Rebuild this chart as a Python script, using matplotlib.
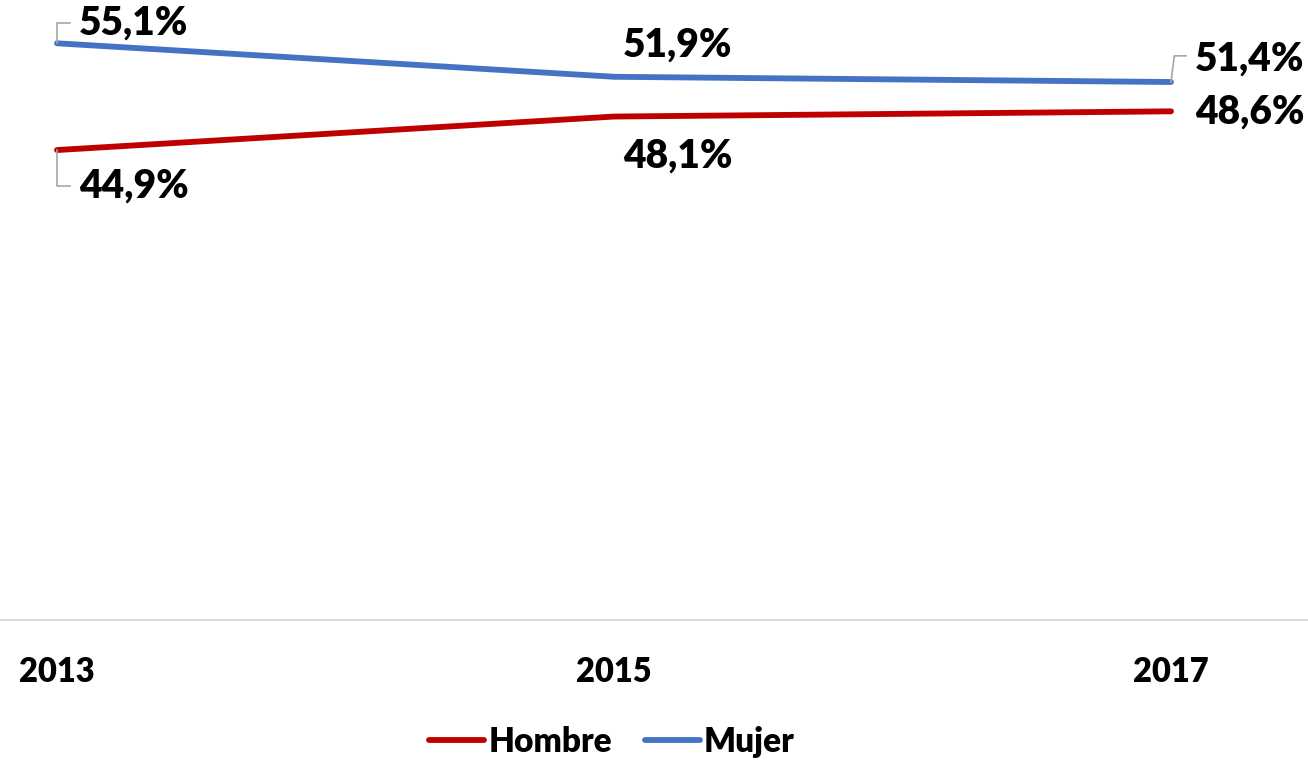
import matplotlib
matplotlib.use("Agg")
import matplotlib.pyplot as plt

years = ["2013", "2015", "2017"]
hombre = [44.9, 48.1, 48.6]
mujer = [55.1, 51.9, 51.4]
hombre_labels = ["44,9%", "48,1%", "48,6%"]
mujer_labels = ["55,1%", "51,9%", "51,4%"]

RED = "#C00000"
BLUE = "#4472C4"
GRAY = "#A6A6A6"
FONT = "Lato"
WT = "heavy"

W, H = 1308, 762
fig = plt.figure(figsize=(W / 100, H / 100), dpi=100)
ax = fig.add_axes([0, (H - 620) / H, 1, 628 / H])

x = list(range(len(years)))
ax.plot(x, hombre, color=RED, lw=4.2, solid_capstyle="round", label="Hombre")
ax.plot(x, mujer, color=BLUE, lw=4.2, solid_capstyle="round", label="Mujer")

ax.set_ylim(0, 60)
ax.set_xlim(-57 / 557, (W - 57) / 557)

for s in ["top", "right", "left"]:
    ax.spines[s].set_visible(False)
ax.spines["bottom"].set_color("#D9D9D9")
ax.spines["bottom"].set_linewidth(1.5)
ax.set_yticks([])
ax.set_xticks(x)
ax.set_xticklabels(years, fontsize=23.5, fontweight=WT, family=FONT)
ax.tick_params(axis="x", length=0, pad=26)

tk = dict(fontsize=28, fontweight=WT, family=FONT, color="black")

# 2013 labels with leader lines
ax.annotate(mujer_labels[0], xy=(0, mujer[0]), xytext=(22, 20), textcoords="offset pixels",
            ha="left", va="center", **tk)
ax.plot([0, 0, 0.024], [mujer[0], mujer[0] + 1.9, mujer[0] + 1.9], color=GRAY, lw=1.2)
ax.annotate(hombre_labels[0], xy=(0, hombre[0]), xytext=(22, -36), textcoords="offset pixels",
            ha="left", va="center", **tk)
ax.plot([0, 0, 0.024], [hombre[0], hombre[0] - 3.4, hombre[0] - 3.4], color=GRAY, lw=1.2)

# 2015 labels
ax.annotate(mujer_labels[1], xy=(1, mujer[1]), xytext=(64, 32), textcoords="offset pixels",
            ha="center", va="center", **tk)
ax.annotate(hombre_labels[1], xy=(1, hombre[1]), xytext=(64, -40), textcoords="offset pixels",
            ha="center", va="center", **tk)

# 2017 labels
ax.annotate(mujer_labels[2], xy=(2, mujer[2]), xytext=(24, 23), textcoords="offset pixels",
            ha="left", va="center", **tk)
ax.plot([2, 2.006, 2.027], [mujer[2], mujer[2] + 2.5, mujer[2] + 2.5], color=GRAY, lw=1.2)
ax.annotate(hombre_labels[2], xy=(2, hombre[2]), xytext=(24, -1), textcoords="offset pixels",
            ha="left", va="center", **tk)

leg = fig.legend(loc="center", bbox_to_anchor=(612 / W, 1 - 742 / H), ncol=2, frameon=False,
                 prop=dict(size=24, weight=WT, family=FONT), handlelength=1.65,
                 handletextpad=0.12, columnspacing=1.0)

fig.savefig("out.png", dpi=100, facecolor="white")
